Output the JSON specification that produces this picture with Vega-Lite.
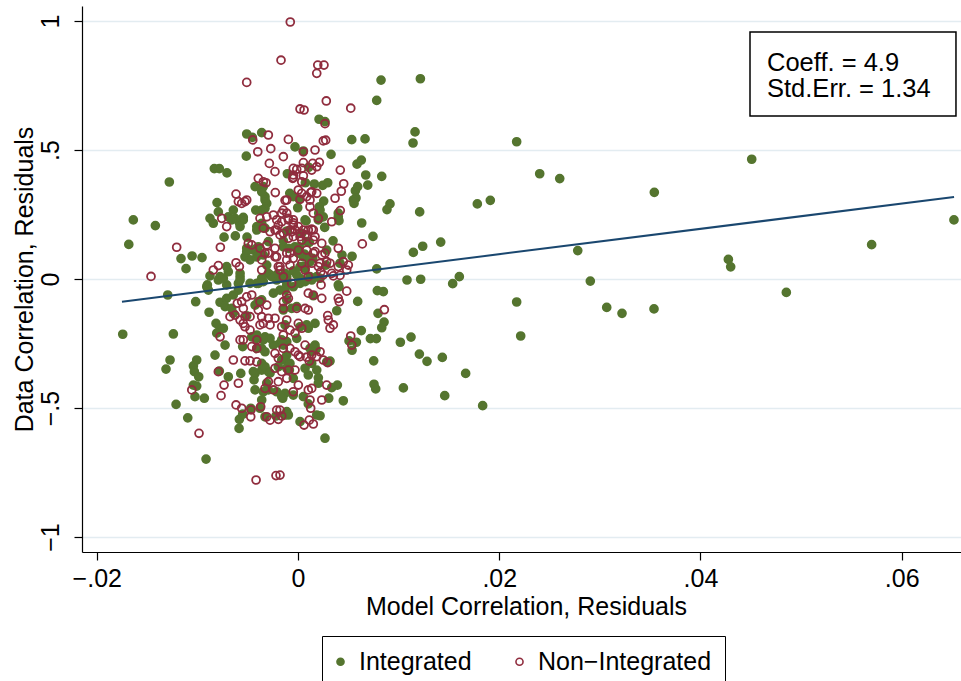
{
"$schema": "https://vega.github.io/schema/vega-lite/v6.json",
"width": 879, "height": 546,
"autosize": {"type": "none"},
"padding": {"left": 82, "top": 6, "right": 0, "bottom": 129},
"background": "white",
"config": {"view": {"stroke": null}, "font": "Liberation Sans"},
"layer": [
{
"data": {"values": [
{"x":0.00825,"y":0.771,"g":"Integrated"},{"x":0.01216,"y":0.776,"g":"Integrated"},{"x":0.00782,"y":0.692,"g":"Integrated"},{"x":0.01163,"y":0.570,"g":"Integrated"},{"x":0.01143,"y":0.527,"g":"Integrated"},{"x":0.02173,"y":0.532,"g":"Integrated"},{"x":0.00534,"y":0.540,"g":"Integrated"},{"x":0.00666,"y":0.543,"g":"Integrated"},{"x":0.02402,"y":0.408,"g":"Integrated"},{"x":0.02601,"y":0.389,"g":"Integrated"},
{"x":0.00328,"y":0.483,"g":"Integrated"},{"x":0.00586,"y":0.445,"g":"Integrated"},{"x":0.00629,"y":0.461,"g":"Integrated"},{"x":0.00673,"y":0.403,"g":"Integrated"},{"x":0.00832,"y":0.398,"g":"Integrated"},{"x":0.00693,"y":0.364,"g":"Integrated"},{"x":0.0057,"y":0.342,"g":"Integrated"},{"x":0.00593,"y":0.358,"g":"Integrated"},{"x":0.00576,"y":0.314,"g":"Integrated"},{"x":0.00557,"y":0.293,"g":"Integrated"},
{"x":0.01782,"y":0.291,"g":"Integrated"},{"x":0.01911,"y":0.305,"g":"Integrated"},{"x":0.00914,"y":0.291,"g":"Integrated"},{"x":0.00884,"y":0.269,"g":"Integrated"},{"x":0.01209,"y":0.260,"g":"Integrated"},{"x":0.00633,"y":0.217,"g":"Integrated"},{"x":0.00745,"y":0.165,"g":"Integrated"},{"x":0.01418,"y":0.143,"g":"Integrated"},{"x":0.01239,"y":0.127,"g":"Integrated"},{"x":0.01146,"y":0.103,"g":"Integrated"},
{"x":0.0278,"y":0.110,"g":"Integrated"},{"x":0.00782,"y":0.039,"g":"Integrated"},{"x":0.01083,"y":-0.004,"g":"Integrated"},{"x":0.01219,"y":-0.001,"g":"Integrated"},{"x":0.01603,"y":0.009,"g":"Integrated"},{"x":0.01537,"y":-0.018,"g":"Integrated"},{"x":0.02905,"y":-0.008,"g":"Integrated"},{"x":0.00209,"y":0.619,"g":"Integrated"},{"x":0.0008,"y":0.225,"g":"Integrated"},{"x":0.00255,"y":0.302,"g":"Integrated"},
{"x":0.00212,"y":0.280,"g":"Integrated"},{"x":0.00206,"y":0.255,"g":"Integrated"},{"x":0.004,"y":0.255,"g":"Integrated"},{"x":0.00407,"y":0.226,"g":"Integrated"},{"x":0.00265,"y":0.200,"g":"Integrated"},{"x":0.00348,"y":0.148,"g":"Integrated"},{"x":0.00285,"y":0.112,"g":"Integrated"},{"x":0.00437,"y":0.093,"g":"Integrated"},{"x":0.00537,"y":0.088,"g":"Integrated"},{"x":0.00417,"y":0.061,"g":"Integrated"},
{"x":-0.00106,"y":0.408,"g":"Integrated"},{"x":-0.0003,"y":0.512,"g":"Integrated"},{"x":0.00053,"y":0.496,"g":"Integrated"},{"x":0.00106,"y":0.433,"g":"Integrated"},{"x":0.00073,"y":0.373,"g":"Integrated"},{"x":0.00162,"y":0.368,"g":"Integrated"},{"x":0.00245,"y":0.363,"g":"Integrated"},{"x":0.00295,"y":0.373,"g":"Integrated"},{"x":-0.00082,"y":0.332,"g":"Integrated"},{"x":0.00013,"y":0.309,"g":"Integrated"},
{"x":-0.00003,"y":0.276,"g":"Integrated"},{"x":-0.00112,"y":0.186,"g":"Integrated"},{"x":-0.00146,"y":0.125,"g":"Integrated"},{"x":0.00112,"y":0.142,"g":"Integrated"},{"x":0.00013,"y":0.125,"g":"Integrated"},{"x":0.00063,"y":0.097,"g":"Integrated"},{"x":0.00146,"y":0.080,"g":"Integrated"},{"x":0.00053,"y":0.048,"g":"Integrated"},{"x":-0.00047,"y":0.032,"g":"Integrated"},{"x":0.0002,"y":0.003,"g":"Integrated"},
{"x":0.00278,"y":0.054,"g":"Integrated"},{"x":0.004,"y":-0.023,"g":"Integrated"},{"x":0.00788,"y":-0.045,"g":"Integrated"},{"x":0.00848,"y":-0.049,"g":"Integrated"},{"x":0.00593,"y":-0.087,"g":"Integrated"},{"x":0.00385,"y":-0.123,"g":"Integrated"},{"x":0.00407,"y":-0.030,"g":"Integrated"},{"x":0.00152,"y":-0.065,"g":"Integrated"},{"x":0.02173,"y":-0.089,"g":"Integrated"},{"x":0.03068,"y":-0.110,"g":"Integrated"},
{"x":0.0322,"y":-0.133,"g":"Integrated"},{"x":0.02213,"y":-0.221,"g":"Integrated"},{"x":0.00795,"y":-0.133,"g":"Integrated"},{"x":0.00855,"y":-0.167,"g":"Integrated"},{"x":0.00832,"y":-0.189,"g":"Integrated"},{"x":0.00629,"y":-0.200,"g":"Integrated"},{"x":0.00507,"y":-0.240,"g":"Integrated"},{"x":0.0058,"y":-0.245,"g":"Integrated"},{"x":0.00537,"y":-0.276,"g":"Integrated"},{"x":0.00719,"y":-0.231,"g":"Integrated"},
{"x":0.00779,"y":-0.231,"g":"Integrated"},{"x":0.01017,"y":-0.245,"g":"Integrated"},{"x":0.01123,"y":-0.225,"g":"Integrated"},{"x":0.00752,"y":-0.317,"g":"Integrated"},{"x":0.01206,"y":-0.291,"g":"Integrated"},{"x":0.01282,"y":-0.319,"g":"Integrated"},{"x":0.01434,"y":-0.304,"g":"Integrated"},{"x":0.01666,"y":-0.366,"g":"Integrated"},{"x":0.00285,"y":-0.321,"g":"Integrated"},{"x":0.00318,"y":-0.318,"g":"Integrated"},
{"x":0.00202,"y":-0.383,"g":"Integrated"},{"x":0.00202,"y":-0.404,"g":"Integrated"},{"x":0.00755,"y":-0.408,"g":"Integrated"},{"x":0.00772,"y":-0.426,"g":"Integrated"},{"x":0.01047,"y":-0.422,"g":"Integrated"},{"x":0.01458,"y":-0.452,"g":"Integrated"},{"x":0.01835,"y":-0.491,"g":"Integrated"},{"x":0.00335,"y":-0.421,"g":"Integrated"},{"x":0.00391,"y":-0.411,"g":"Integrated"},{"x":0.00305,"y":-0.462,"g":"Integrated"},
{"x":0.0045,"y":-0.472,"g":"Integrated"},{"x":0.00219,"y":-0.530,"g":"Integrated"},{"x":0.00268,"y":-0.617,"g":"Integrated"},{"x":-0.00152,"y":-0.462,"g":"Integrated"},{"x":-0.00112,"y":-0.514,"g":"Integrated"},{"x":-0.00129,"y":-0.527,"g":"Integrated"},{"x":0.0002,"y":-0.553,"g":"Integrated"},{"x":-0.00047,"y":-0.450,"g":"Integrated"},{"x":0.00053,"y":-0.456,"g":"Integrated"},{"x":0.00102,"y":-0.484,"g":"Integrated"},
{"x":-0.00179,"y":-0.249,"g":"Integrated"},{"x":-0.00112,"y":-0.243,"g":"Integrated"},{"x":-0.00013,"y":-0.230,"g":"Integrated"},{"x":0.00119,"y":-0.269,"g":"Integrated"},{"x":0.00179,"y":-0.273,"g":"Integrated"},{"x":-0.00112,"y":-0.295,"g":"Integrated"},{"x":-0.00086,"y":-0.353,"g":"Integrated"},{"x":-0.00047,"y":-0.385,"g":"Integrated"},{"x":-0.00162,"y":-0.314,"g":"Integrated"},{"x":0.0007,"y":-0.346,"g":"Integrated"},
{"x":0.00136,"y":-0.327,"g":"Integrated"},{"x":0.00186,"y":-0.353,"g":"Integrated"},{"x":0.00102,"y":-0.372,"g":"Integrated"},{"x":-0.00112,"y":-0.081,"g":"Integrated"},{"x":-0.00013,"y":-0.107,"g":"Integrated"},{"x":-0.00146,"y":-0.120,"g":"Integrated"},{"x":0.0002,"y":-0.185,"g":"Integrated"},{"x":0.00086,"y":-0.178,"g":"Integrated"},{"x":0.00169,"y":-0.172,"g":"Integrated"},
{"x":-0.01279,"y":0.376,"g":"Integrated"},{"x":-0.01637,"y":0.229,"g":"Integrated"},{"x":-0.01418,"y":0.207,"g":"Integrated"},{"x":-0.01682,"y":0.134,"g":"Integrated"},{"x":-0.01163,"y":0.079,"g":"Integrated"},{"x":-0.01053,"y":0.089,"g":"Integrated"},{"x":-0.00954,"y":0.083,"g":"Integrated"},{"x":-0.01113,"y":0.040,"g":"Integrated"},{"x":-0.0051,"y":0.562,"g":"Integrated"},{"x":-0.00454,"y":0.549,"g":"Integrated"},
{"x":-0.00361,"y":0.567,"g":"Integrated"},{"x":-0.00514,"y":0.476,"g":"Integrated"},{"x":-0.00832,"y":0.428,"g":"Integrated"},{"x":-0.00782,"y":0.428,"g":"Integrated"},{"x":-0.00706,"y":0.411,"g":"Integrated"},{"x":-0.00805,"y":0.296,"g":"Integrated"},{"x":-0.00875,"y":0.235,"g":"Integrated"},{"x":-0.00842,"y":0.216,"g":"Integrated"},{"x":-0.00792,"y":0.260,"g":"Integrated"},{"x":-0.00693,"y":0.241,"g":"Integrated"},
{"x":-0.00643,"y":0.267,"g":"Integrated"},{"x":-0.00735,"y":0.162,"g":"Integrated"},{"x":-0.00623,"y":0.167,"g":"Integrated"},{"x":-0.00507,"y":0.162,"g":"Integrated"},{"x":-0.00583,"y":0.218,"g":"Integrated"},{"x":-0.00544,"y":0.239,"g":"Integrated"},{"x":-0.0042,"y":0.267,"g":"Integrated"},{"x":-0.00427,"y":0.358,"g":"Integrated"},{"x":-0.00345,"y":0.358,"g":"Integrated"},{"x":-0.00328,"y":0.319,"g":"Integrated"},
{"x":-0.00311,"y":0.293,"g":"Integrated"},{"x":-0.00328,"y":0.274,"g":"Integrated"},{"x":-0.0051,"y":0.119,"g":"Integrated"},{"x":-0.00444,"y":0.112,"g":"Integrated"},{"x":-0.0041,"y":0.119,"g":"Integrated"},{"x":-0.00345,"y":0.093,"g":"Integrated"},{"x":-0.00527,"y":0.086,"g":"Integrated"},{"x":-0.00477,"y":0.074,"g":"Integrated"},{"x":-0.00311,"y":0.054,"g":"Integrated"},{"x":-0.00278,"y":0.016,"g":"Integrated"},
{"x":-0.00212,"y":-0.004,"g":"Integrated"},{"x":-0.00129,"y":0.022,"g":"Integrated"},{"x":-0.00112,"y":0.009,"g":"Integrated"},{"x":-0.00146,"y":0.148,"g":"Integrated"},{"x":-0.00096,"y":0.119,"g":"Integrated"},{"x":-0.0003,"y":0.125,"g":"Integrated"},{"x":0.00086,"y":0.145,"g":"Integrated"},{"x":0.00037,"y":0.177,"g":"Integrated"},{"x":0.00053,"y":0.086,"g":"Integrated"},{"x":0.00119,"y":0.067,"g":"Integrated"},
{"x":0.0007,"y":0.041,"g":"Integrated"},{"x":-0.00875,"y":0.012,"g":"Integrated"},{"x":-0.00775,"y":0.009,"g":"Integrated"},{"x":-0.00693,"y":0.028,"g":"Integrated"},{"x":-0.00576,"y":0.009,"g":"Integrated"},{"x":-0.0041,"y":-0.017,"g":"Integrated"},{"x":-0.00345,"y":-0.010,"g":"Integrated"},{"x":-0.00901,"y":-0.023,"g":"Integrated"},{"x":-0.00709,"y":0.048,"g":"Integrated"},
{"x":-0.01742,"y":-0.214,"g":"Integrated"},{"x":-0.01295,"y":-0.062,"g":"Integrated"},{"x":-0.01239,"y":-0.213,"g":"Integrated"},{"x":-0.01017,"y":-0.088,"g":"Integrated"},{"x":-0.00884,"y":-0.129,"g":"Integrated"},{"x":-0.01272,"y":-0.314,"g":"Integrated"},{"x":-0.01312,"y":-0.349,"g":"Integrated"},{"x":-0.01212,"y":-0.486,"g":"Integrated"},{"x":-0.01096,"y":-0.538,"g":"Integrated"},{"x":-0.00914,"y":-0.698,"g":"Integrated"},
{"x":-0.01007,"y":-0.314,"g":"Integrated"},{"x":-0.0104,"y":-0.337,"g":"Integrated"},{"x":-0.0103,"y":-0.359,"g":"Integrated"},{"x":-0.00987,"y":-0.379,"g":"Integrated"},{"x":-0.0104,"y":-0.411,"g":"Integrated"},{"x":-0.01007,"y":-0.415,"g":"Integrated"},{"x":-0.01024,"y":-0.456,"g":"Integrated"},{"x":-0.00931,"y":-0.462,"g":"Integrated"},{"x":-0.00815,"y":-0.172,"g":"Integrated"},{"x":-0.00775,"y":-0.191,"g":"Integrated"},
{"x":-0.00808,"y":-0.210,"g":"Integrated"},{"x":-0.00725,"y":-0.256,"g":"Integrated"},{"x":-0.00825,"y":-0.295,"g":"Integrated"},{"x":-0.00782,"y":-0.357,"g":"Integrated"},{"x":-0.00693,"y":-0.379,"g":"Integrated"},{"x":-0.00569,"y":-0.366,"g":"Integrated"},{"x":-0.0055,"y":-0.262,"g":"Integrated"},{"x":-0.00583,"y":-0.544,"g":"Integrated"},{"x":-0.0055,"y":-0.524,"g":"Integrated"},{"x":-0.0047,"y":-0.501,"g":"Integrated"},
{"x":-0.00775,"y":-0.090,"g":"Integrated"},{"x":-0.00643,"y":-0.133,"g":"Integrated"},{"x":-0.0051,"y":-0.143,"g":"Integrated"},{"x":-0.00907,"y":-0.030,"g":"Integrated"},{"x":-0.00891,"y":-0.043,"g":"Integrated"},{"x":-0.00709,"y":-0.023,"g":"Integrated"},{"x":-0.00593,"y":-0.017,"g":"Integrated"},{"x":-0.00477,"y":-0.017,"g":"Integrated"},{"x":-0.00394,"y":-0.017,"g":"Integrated"},{"x":-0.00427,"y":-0.366,"g":"Integrated"},
{"x":-0.00361,"y":-0.353,"g":"Integrated"},{"x":-0.00437,"y":-0.391,"g":"Integrated"},{"x":-0.00427,"y":-0.430,"g":"Integrated"},{"x":-0.00345,"y":-0.437,"g":"Integrated"},{"x":-0.00311,"y":-0.404,"g":"Integrated"},{"x":-0.0046,"y":-0.224,"g":"Integrated"},{"x":-0.0041,"y":-0.230,"g":"Integrated"},{"x":-0.00345,"y":-0.236,"g":"Integrated"},{"x":-0.00245,"y":-0.256,"g":"Integrated"},{"x":-0.00162,"y":-0.236,"g":"Integrated"},
{"x":-0.00361,"y":-0.269,"g":"Integrated"},{"x":-0.00328,"y":-0.282,"g":"Integrated"},{"x":-0.00129,"y":-0.314,"g":"Integrated"},{"x":-0.0008,"y":-0.327,"g":"Integrated"},{"x":-0.00112,"y":-0.346,"g":"Integrated"},{"x":-0.00245,"y":-0.055,"g":"Integrated"},{"x":-0.00179,"y":-0.043,"g":"Integrated"},{"x":-0.00112,"y":-0.023,"g":"Integrated"},{"x":-0.00047,"y":-0.030,"g":"Integrated"},{"x":0.0002,"y":-0.017,"g":"Integrated"},
{"x":-0.00219,"y":-0.531,"g":"Integrated"},{"x":-0.00328,"y":-0.534,"g":"Integrated"},{"x":-0.00129,"y":-0.443,"g":"Integrated"},{"x":0.00186,"y":-0.527,"g":"Integrated"},{"x":-0.00544,"y":0.229,"g":"Integrated"},{"x":-0.00626,"y":0.235,"g":"Integrated"},{"x":-0.00576,"y":0.203,"g":"Integrated"},{"x":-0.00659,"y":0.229,"g":"Integrated"},{"x":-0.0041,"y":0.203,"g":"Integrated"},{"x":-0.00576,"y":0.022,"g":"Integrated"},
{"x":-0.0051,"y":0.106,"g":"Integrated"},{"x":-0.0041,"y":0.086,"g":"Integrated"},{"x":0.00268,"y":0.610,"g":"Integrated"},{"x":-0.00361,"y":0.338,"g":"Integrated"},{"x":-0.00328,"y":0.306,"g":"Integrated"},{"x":-0.00361,"y":0.267,"g":"Integrated"},{"x":-0.00047,"y":0.319,"g":"Integrated"},{"x":0.00219,"y":0.267,"g":"Integrated"},{"x":0.00251,"y":0.241,"g":"Integrated"},{"x":0.00202,"y":0.229,"g":"Integrated"},
{"x":0.004,"y":0.241,"g":"Integrated"},{"x":0.0055,"y":0.306,"g":"Integrated"},{"x":-0.00361,"y":0.216,"g":"Integrated"},{"x":-0.00328,"y":0.197,"g":"Integrated"},{"x":-0.0041,"y":0.190,"g":"Integrated"},{"x":0.0007,"y":0.229,"g":"Integrated"},{"x":-0.00295,"y":0.145,"g":"Integrated"},{"x":-0.00395,"y":0.125,"g":"Integrated"},{"x":0.00003,"y":0.100,"g":"Integrated"},{"x":0.00102,"y":0.086,"g":"Integrated"},
{"x":-0.00295,"y":0.022,"g":"Integrated"},{"x":-0.00212,"y":0.016,"g":"Integrated"},{"x":0.0002,"y":0.048,"g":"Integrated"},{"x":-0.00013,"y":0.016,"g":"Integrated"},{"x":0.00119,"y":0.009,"g":"Integrated"},{"x":0.00186,"y":0.009,"g":"Integrated"},{"x":-0.00792,"y":-0.004,"g":"Integrated"},{"x":-0.00742,"y":0.003,"g":"Integrated"},{"x":-0.00576,"y":-0.004,"g":"Integrated"},{"x":-0.00593,"y":-0.043,"g":"Integrated"},
{"x":-0.00709,"y":-0.075,"g":"Integrated"},{"x":-0.00643,"y":-0.062,"g":"Integrated"},{"x":-0.00725,"y":-0.107,"g":"Integrated"},{"x":-0.00659,"y":-0.114,"g":"Integrated"},{"x":-0.00427,"y":-0.101,"g":"Integrated"},{"x":-0.00742,"y":-0.191,"g":"Integrated"},{"x":-0.0041,"y":-0.269,"g":"Integrated"},{"x":-0.00444,"y":-0.359,"g":"Integrated"},{"x":-0.00586,"y":-0.579,"g":"Integrated"},{"x":-0.00378,"y":-0.501,"g":"Integrated"},
{"x":-0.00361,"y":0.003,"g":"Integrated"},{"x":-0.00261,"y":0.009,"g":"Integrated"},{"x":-0.00162,"y":0.003,"g":"Integrated"},{"x":-0.00112,"y":-0.010,"g":"Integrated"},{"x":0.0007,"y":-0.010,"g":"Integrated"},{"x":0.00136,"y":-0.004,"g":"Integrated"},{"x":0.00219,"y":0.003,"g":"Integrated"},{"x":-0.00129,"y":-0.043,"g":"Integrated"},{"x":-0.00395,"y":-0.088,"g":"Integrated"},{"x":-0.00361,"y":-0.081,"g":"Integrated"},
{"x":-0.00063,"y":-0.114,"g":"Integrated"},{"x":-0.00129,"y":-0.178,"g":"Integrated"},{"x":0.00102,"y":-0.191,"g":"Integrated"},{"x":-0.0041,"y":-0.217,"g":"Integrated"},{"x":-0.00328,"y":-0.224,"g":"Integrated"},{"x":-0.00278,"y":-0.230,"g":"Integrated"},{"x":-0.00146,"y":-0.256,"g":"Integrated"},{"x":0.00169,"y":-0.256,"g":"Integrated"},{"x":0.00136,"y":-0.282,"g":"Integrated"},{"x":-0.00361,"y":-0.327,"g":"Integrated"},
{"x":-0.00328,"y":-0.340,"g":"Integrated"},{"x":-0.00295,"y":-0.359,"g":"Integrated"},{"x":-0.00278,"y":-0.365,"g":"Integrated"},{"x":-0.00196,"y":-0.340,"g":"Integrated"},{"x":-0.00096,"y":-0.340,"g":"Integrated"},{"x":-0.00295,"y":-0.430,"g":"Integrated"},{"x":-0.00212,"y":-0.437,"g":"Integrated"},{"x":-0.00162,"y":-0.456,"g":"Integrated"},{"x":-0.00361,"y":-0.469,"g":"Integrated"},{"x":-0.00096,"y":-0.527,"g":"Integrated"},
{"x":0.04277,"y":0.076,"g":"Integrated"},{"x":0.043,"y":0.047,"g":"Integrated"},{"x":0.03541,"y":0.336,"g":"Integrated"},{"x":0.04509,"y":0.464,"g":"Integrated"},{"x":0.04853,"y":-0.052,"g":"Integrated"},{"x":0.05701,"y":0.133,"g":"Integrated"},{"x":0.06519,"y":0.229,"g":"Integrated"},{"x":0.03538,"y":-0.116,"g":"Integrated"},
{"x":-0.00077,"y":0.996,"g":"Non-Integrated"},{"x":-0.00169,"y":0.848,"g":"Non-Integrated"},{"x":-0.0051,"y":0.762,"g":"Non-Integrated"},{"x":0.00196,"y":0.829,"g":"Non-Integrated"},{"x":0.00186,"y":0.797,"g":"Non-Integrated"},{"x":0.00258,"y":0.829,"g":"Non-Integrated"},{"x":0.0002,"y":0.659,"g":"Non-Integrated"},{"x":0.0006,"y":0.655,"g":"Non-Integrated"},{"x":-0.00295,"y":0.558,"g":"Non-Integrated"},{"x":-0.0045,"y":0.539,"g":"Non-Integrated"},
{"x":-0.00096,"y":0.541,"g":"Non-Integrated"},{"x":-0.004,"y":0.493,"g":"Non-Integrated"},{"x":-0.00271,"y":0.505,"g":"Non-Integrated"},{"x":0.00053,"y":0.493,"g":"Non-Integrated"},{"x":0.00169,"y":0.500,"g":"Non-Integrated"},{"x":-0.00146,"y":0.474,"g":"Non-Integrated"},{"x":-0.00285,"y":0.448,"g":"Non-Integrated"},{"x":-0.00229,"y":0.416,"g":"Non-Integrated"},{"x":-0.00047,"y":0.429,"g":"Non-Integrated"},{"x":0.00037,"y":0.429,"g":"Non-Integrated"},
{"x":0.00136,"y":0.422,"g":"Non-Integrated"},{"x":-0.00053,"y":0.390,"g":"Non-Integrated"},{"x":0.00037,"y":0.377,"g":"Non-Integrated"},{"x":-0.00345,"y":0.377,"g":"Non-Integrated"},{"x":-0.00318,"y":0.373,"g":"Non-Integrated"},{"x":-0.00616,"y":0.329,"g":"Non-Integrated"},{"x":-0.00593,"y":0.300,"g":"Non-Integrated"},{"x":-0.0056,"y":0.293,"g":"Non-Integrated"},{"x":-0.00527,"y":0.300,"g":"Non-Integrated"},{"x":-0.0051,"y":0.306,"g":"Non-Integrated"},
{"x":-0.00226,"y":0.335,"g":"Non-Integrated"},{"x":-0.00112,"y":0.306,"g":"Non-Integrated"},{"x":0.00003,"y":0.345,"g":"Non-Integrated"},{"x":0.00037,"y":0.332,"g":"Non-Integrated"},{"x":0.00086,"y":0.319,"g":"Non-Integrated"},{"x":0.00136,"y":0.338,"g":"Non-Integrated"},{"x":0.00186,"y":0.332,"g":"Non-Integrated"},{"x":-0.01206,"y":0.123,"g":"Non-Integrated"},{"x":-0.01461,"y":0.010,"g":"Non-Integrated"},{"x":-0.00772,"y":0.123,"g":"Non-Integrated"},
{"x":-0.00709,"y":0.203,"g":"Non-Integrated"},{"x":-0.00616,"y":0.063,"g":"Non-Integrated"},{"x":-0.00583,"y":0.048,"g":"Non-Integrated"},{"x":-0.00361,"y":0.035,"g":"Non-Integrated"},{"x":-0.00179,"y":0.035,"g":"Non-Integrated"},{"x":-0.00378,"y":0.235,"g":"Non-Integrated"},{"x":-0.00311,"y":0.241,"g":"Non-Integrated"},{"x":-0.00245,"y":0.248,"g":"Non-Integrated"},{"x":-0.00212,"y":0.229,"g":"Non-Integrated"},{"x":-0.00162,"y":0.222,"g":"Non-Integrated"},
{"x":-0.00112,"y":0.255,"g":"Non-Integrated"},{"x":-0.00047,"y":0.229,"g":"Non-Integrated"},{"x":-0.00345,"y":0.197,"g":"Non-Integrated"},{"x":-0.00278,"y":0.183,"g":"Non-Integrated"},{"x":-0.00212,"y":0.190,"g":"Non-Integrated"},{"x":-0.00146,"y":0.177,"g":"Non-Integrated"},{"x":-0.0008,"y":0.190,"g":"Non-Integrated"},{"x":-0.00047,"y":0.164,"g":"Non-Integrated"},{"x":0.0002,"y":0.177,"g":"Non-Integrated"},{"x":0.00102,"y":0.190,"g":"Non-Integrated"},
{"x":-0.00311,"y":0.132,"g":"Non-Integrated"},{"x":-0.00229,"y":0.119,"g":"Non-Integrated"},{"x":-0.00212,"y":0.086,"g":"Non-Integrated"},{"x":-0.00112,"y":0.100,"g":"Non-Integrated"},{"x":-0.00047,"y":0.080,"g":"Non-Integrated"},{"x":-0.0008,"y":0.054,"g":"Non-Integrated"},{"x":0.00037,"y":0.061,"g":"Non-Integrated"},{"x":0.00152,"y":0.100,"g":"Non-Integrated"},{"x":-0.00378,"y":0.119,"g":"Non-Integrated"},{"x":-0.00328,"y":0.100,"g":"Non-Integrated"},
{"x":0.00119,"y":0.280,"g":"Non-Integrated"},{"x":0.00152,"y":0.255,"g":"Non-Integrated"},{"x":0.00202,"y":0.235,"g":"Non-Integrated"},{"x":0.00281,"y":0.690,"g":"Non-Integrated"},{"x":0.00524,"y":0.662,"g":"Non-Integrated"},{"x":0.00268,"y":0.602,"g":"Non-Integrated"},{"x":0.00251,"y":0.535,"g":"Non-Integrated"},{"x":0.00275,"y":0.538,"g":"Non-Integrated"},{"x":0.00053,"y":0.451,"g":"Non-Integrated"},{"x":0.00146,"y":0.448,"g":"Non-Integrated"},
{"x":0.00212,"y":0.452,"g":"Non-Integrated"},{"x":-0.00013,"y":0.425,"g":"Non-Integrated"},{"x":0.00053,"y":0.400,"g":"Non-Integrated"},{"x":-0.00047,"y":0.393,"g":"Non-Integrated"},{"x":0.0042,"y":0.422,"g":"Non-Integrated"},{"x":0.00454,"y":0.369,"g":"Non-Integrated"},{"x":0.0043,"y":0.340,"g":"Non-Integrated"},{"x":0.00368,"y":0.313,"g":"Non-Integrated"},{"x":0.00126,"y":0.335,"g":"Non-Integrated"},{"x":0.00119,"y":0.306,"g":"Non-Integrated"},
{"x":0.0002,"y":0.309,"g":"Non-Integrated"},{"x":-0.00129,"y":0.305,"g":"Non-Integrated"},{"x":0.0042,"y":0.265,"g":"Non-Integrated"},{"x":0.00335,"y":0.222,"g":"Non-Integrated"},{"x":0.00639,"y":0.136,"g":"Non-Integrated"},{"x":0.00236,"y":0.138,"g":"Non-Integrated"},{"x":0.004,"y":0.119,"g":"Non-Integrated"},{"x":0.005,"y":0.054,"g":"Non-Integrated"},{"x":-0.0008,"y":0.100,"g":"Non-Integrated"},{"x":0.00226,"y":0.027,"g":"Non-Integrated"},
{"x":0.00251,"y":0.016,"g":"Non-Integrated"},{"x":0.00351,"y":0.012,"g":"Non-Integrated"},{"x":0.00417,"y":0.014,"g":"Non-Integrated"},{"x":-0.00096,"y":0.235,"g":"Non-Integrated"},{"x":-0.00047,"y":0.218,"g":"Non-Integrated"},{"x":-0.0003,"y":0.190,"g":"Non-Integrated"},{"x":-0.00096,"y":0.158,"g":"Non-Integrated"},{"x":0.00053,"y":0.190,"g":"Non-Integrated"},{"x":0.00136,"y":0.193,"g":"Non-Integrated"},{"x":0.0002,"y":0.164,"g":"Non-Integrated"},
{"x":0.00086,"y":0.164,"g":"Non-Integrated"},{"x":0.00152,"y":0.151,"g":"Non-Integrated"},{"x":0.00236,"y":0.093,"g":"Non-Integrated"},{"x":0.00136,"y":0.061,"g":"Non-Integrated"},{"x":0.00202,"y":0.048,"g":"Non-Integrated"},{"x":0.00318,"y":0.061,"g":"Non-Integrated"},{"x":-0.00179,"y":0.048,"g":"Non-Integrated"},{"x":-0.00112,"y":0.074,"g":"Non-Integrated"},{"x":-0.00146,"y":0.009,"g":"Non-Integrated"},{"x":-0.00063,"y":-0.017,"g":"Non-Integrated"},
{"x":0.00229,"y":-0.023,"g":"Non-Integrated"},{"x":0.00236,"y":-0.075,"g":"Non-Integrated"},{"x":0.00484,"y":-0.047,"g":"Non-Integrated"},{"x":0.0041,"y":-0.088,"g":"Non-Integrated"},{"x":0.00858,"y":-0.119,"g":"Non-Integrated"},{"x":0.00295,"y":-0.142,"g":"Non-Integrated"},{"x":0.00351,"y":-0.178,"g":"Non-Integrated"},{"x":0.00301,"y":-0.159,"g":"Non-Integrated"},{"x":0.00524,"y":-0.221,"g":"Non-Integrated"},{"x":0.00251,"y":-0.314,"g":"Non-Integrated"},
{"x":0.00295,"y":-0.324,"g":"Non-Integrated"},{"x":0.00112,"y":-0.318,"g":"Non-Integrated"},{"x":0.00086,"y":-0.303,"g":"Non-Integrated"},{"x":0.00136,"y":-0.295,"g":"Non-Integrated"},{"x":0.0002,"y":-0.301,"g":"Non-Integrated"},{"x":0.00003,"y":-0.411,"g":"Non-Integrated"},{"x":-0.00047,"y":-0.437,"g":"Non-Integrated"},{"x":0.00102,"y":-0.430,"g":"Non-Integrated"},{"x":0.00136,"y":-0.424,"g":"Non-Integrated"},{"x":0.00119,"y":-0.469,"g":"Non-Integrated"},
{"x":0.00236,"y":-0.469,"g":"Non-Integrated"},{"x":0.00126,"y":-0.501,"g":"Non-Integrated"},{"x":0.00112,"y":-0.547,"g":"Non-Integrated"},{"x":0.00152,"y":-0.562,"g":"Non-Integrated"},{"x":0.0006,"y":-0.566,"g":"Non-Integrated"},{"x":-0.00179,"y":-0.760,"g":"Non-Integrated"},{"x":-0.00162,"y":-0.531,"g":"Non-Integrated"},{"x":-0.00179,"y":-0.508,"g":"Non-Integrated"},{"x":-0.00417,"y":-0.779,"g":"Non-Integrated"},{"x":-0.00219,"y":-0.762,"g":"Non-Integrated"},
{"x":-0.00984,"y":-0.598,"g":"Non-Integrated"},{"x":-0.01056,"y":-0.430,"g":"Non-Integrated"},{"x":-0.00765,"y":-0.452,"g":"Non-Integrated"},{"x":-0.00735,"y":-0.411,"g":"Non-Integrated"},{"x":-0.00593,"y":-0.404,"g":"Non-Integrated"},{"x":-0.00616,"y":-0.488,"g":"Non-Integrated"},{"x":-0.0056,"y":-0.501,"g":"Non-Integrated"},{"x":-0.0047,"y":-0.534,"g":"Non-Integrated"},{"x":-0.00311,"y":-0.534,"g":"Non-Integrated"},{"x":-0.00278,"y":-0.547,"g":"Non-Integrated"},
{"x":-0.00196,"y":-0.544,"g":"Non-Integrated"},{"x":-0.00371,"y":-0.495,"g":"Non-Integrated"},{"x":-0.00212,"y":-0.508,"g":"Non-Integrated"},{"x":-0.00643,"y":-0.314,"g":"Non-Integrated"},{"x":-0.00527,"y":-0.317,"g":"Non-Integrated"},{"x":-0.00477,"y":-0.317,"g":"Non-Integrated"},{"x":-0.0041,"y":-0.321,"g":"Non-Integrated"},{"x":-0.00676,"y":-0.146,"g":"Non-Integrated"},{"x":-0.00626,"y":-0.140,"g":"Non-Integrated"},{"x":-0.00576,"y":-0.159,"g":"Non-Integrated"},
{"x":-0.00775,"y":-0.224,"g":"Non-Integrated"},{"x":-0.00603,"y":-0.094,"g":"Non-Integrated"},{"x":-0.0051,"y":-0.069,"g":"Non-Integrated"},{"x":-0.00792,"y":-0.359,"g":"Non-Integrated"},{"x":-0.00395,"y":0.390,"g":"Non-Integrated"},{"x":-0.00758,"y":0.235,"g":"Non-Integrated"},{"x":-0.00792,"y":0.052,"g":"Non-Integrated"},{"x":-0.00842,"y":0.035,"g":"Non-Integrated"},{"x":-0.00494,"y":0.138,"g":"Non-Integrated"},{"x":-0.0046,"y":0.132,"g":"Non-Integrated"},
{"x":-0.00047,"y":0.403,"g":"Non-Integrated"},{"x":0.00186,"y":0.435,"g":"Non-Integrated"},{"x":-0.00146,"y":0.267,"g":"Non-Integrated"},{"x":-0.00162,"y":0.255,"g":"Non-Integrated"},{"x":-0.00196,"y":0.209,"g":"Non-Integrated"},{"x":-0.00229,"y":0.190,"g":"Non-Integrated"},{"x":-0.00179,"y":0.171,"g":"Non-Integrated"},{"x":-0.00096,"y":0.229,"g":"Non-Integrated"},{"x":-0.00047,"y":0.209,"g":"Non-Integrated"},{"x":-0.00063,"y":0.183,"g":"Non-Integrated"},
{"x":0.00003,"y":0.203,"g":"Non-Integrated"},{"x":0.0007,"y":0.171,"g":"Non-Integrated"},{"x":0.00152,"y":0.190,"g":"Non-Integrated"},{"x":0.00037,"y":0.151,"g":"Non-Integrated"},{"x":0.00169,"y":0.164,"g":"Non-Integrated"},{"x":-0.00295,"y":0.100,"g":"Non-Integrated"},{"x":-0.00229,"y":0.086,"g":"Non-Integrated"},{"x":-0.00361,"y":0.074,"g":"Non-Integrated"},{"x":-0.00196,"y":0.048,"g":"Non-Integrated"},{"x":0.00003,"y":0.112,"g":"Non-Integrated"},
{"x":0.00086,"y":0.112,"g":"Non-Integrated"},{"x":0.00169,"y":0.106,"g":"Non-Integrated"},{"x":0.00268,"y":0.100,"g":"Non-Integrated"},{"x":0.0007,"y":0.035,"g":"Non-Integrated"},{"x":0.00219,"y":0.061,"g":"Non-Integrated"},{"x":0.00285,"y":0.067,"g":"Non-Integrated"},{"x":0.0045,"y":0.067,"g":"Non-Integrated"},{"x":0.004,"y":0.048,"g":"Non-Integrated"},{"x":0.00484,"y":0.035,"g":"Non-Integrated"},{"x":0.00335,"y":0.022,"g":"Non-Integrated"},
{"x":0.00102,"y":0.009,"g":"Non-Integrated"},{"x":-0.00544,"y":-0.114,"g":"Non-Integrated"},{"x":-0.0056,"y":-0.088,"g":"Non-Integrated"},{"x":-0.0046,"y":-0.062,"g":"Non-Integrated"},{"x":-0.00527,"y":-0.185,"g":"Non-Integrated"},{"x":-0.00477,"y":-0.198,"g":"Non-Integrated"},{"x":-0.00544,"y":-0.236,"g":"Non-Integrated"},{"x":-0.0046,"y":-0.262,"g":"Non-Integrated"},{"x":-0.0041,"y":-0.269,"g":"Non-Integrated"},{"x":-0.00467,"y":-0.507,"g":"Non-Integrated"},
{"x":0.00152,"y":-0.062,"g":"Non-Integrated"},{"x":0.00102,"y":-0.055,"g":"Non-Integrated"},{"x":0.004,"y":-0.075,"g":"Non-Integrated"},{"x":-0.00378,"y":-0.088,"g":"Non-Integrated"},{"x":-0.00311,"y":-0.101,"g":"Non-Integrated"},{"x":-0.00112,"y":-0.062,"g":"Non-Integrated"},{"x":-0.00146,"y":-0.088,"g":"Non-Integrated"},{"x":-0.00096,"y":-0.075,"g":"Non-Integrated"},{"x":-0.00013,"y":-0.114,"g":"Non-Integrated"},{"x":0.0007,"y":-0.114,"g":"Non-Integrated"},
{"x":0.00102,"y":-0.120,"g":"Non-Integrated"},{"x":-0.00395,"y":-0.120,"g":"Non-Integrated"},{"x":-0.00361,"y":-0.146,"g":"Non-Integrated"},{"x":-0.00295,"y":-0.152,"g":"Non-Integrated"},{"x":-0.00229,"y":-0.152,"g":"Non-Integrated"},{"x":-0.00345,"y":-0.172,"g":"Non-Integrated"},{"x":-0.00278,"y":-0.178,"g":"Non-Integrated"},{"x":-0.00378,"y":-0.178,"g":"Non-Integrated"},{"x":-0.00146,"y":-0.114,"g":"Non-Integrated"},{"x":-0.00112,"y":-0.159,"g":"Non-Integrated"},
{"x":0.00003,"y":-0.172,"g":"Non-Integrated"},{"x":0.00037,"y":-0.191,"g":"Non-Integrated"},{"x":-0.0008,"y":-0.198,"g":"Non-Integrated"},{"x":-0.0003,"y":-0.210,"g":"Non-Integrated"},{"x":-0.00146,"y":-0.217,"g":"Non-Integrated"},{"x":-0.00162,"y":-0.185,"g":"Non-Integrated"},{"x":0.00318,"y":-0.191,"g":"Non-Integrated"},{"x":-0.0041,"y":-0.236,"g":"Non-Integrated"},{"x":-0.00229,"y":-0.288,"g":"Non-Integrated"},{"x":-0.00196,"y":-0.307,"g":"Non-Integrated"},
{"x":-0.00146,"y":-0.269,"g":"Non-Integrated"},{"x":-0.0008,"y":-0.269,"g":"Non-Integrated"},{"x":0.00003,"y":-0.295,"g":"Non-Integrated"},{"x":0.00186,"y":-0.301,"g":"Non-Integrated"},{"x":0.00219,"y":-0.282,"g":"Non-Integrated"},{"x":0.0007,"y":-0.256,"g":"Non-Integrated"},{"x":-0.0003,"y":-0.282,"g":"Non-Integrated"},{"x":-0.00229,"y":-0.346,"g":"Non-Integrated"},{"x":-0.00162,"y":-0.359,"g":"Non-Integrated"},{"x":-0.00096,"y":-0.353,"g":"Non-Integrated"},
{"x":-0.0003,"y":-0.353,"g":"Non-Integrated"},{"x":-0.00112,"y":-0.385,"g":"Non-Integrated"},{"x":-0.00196,"y":-0.398,"g":"Non-Integrated"},{"x":-0.00295,"y":-0.398,"g":"Non-Integrated"},{"x":-0.00328,"y":-0.424,"g":"Non-Integrated"},{"x":-0.00245,"y":-0.430,"g":"Non-Integrated"},{"x":0.00285,"y":-0.411,"g":"Non-Integrated"},{"x":0.00534,"y":-0.256,"g":"Non-Integrated"},{"x":-0.00544,"y":-0.172,"g":"Non-Integrated"},{"x":-0.00576,"y":-0.236,"g":"Non-Integrated"},
{"x":-0.00527,"y":-0.146,"g":"Non-Integrated"},{"x":-0.00477,"y":-0.146,"g":"Non-Integrated"}
]},
"mark": {"type": "point", "shape": "circle", "opacity": 1, "strokeWidth": 1.8, "size": 62},
"encoding": {
"x": {"field": "x", "type": "quantitative",
 "scale": {"domain": [-0.02147, 0.06589], "nice": false, "zero": false},
 "axis": {"title": "Model Correlation, Residuals", "values": [-0.02, 0, 0.02, 0.04, 0.06], "format": "~g",
  "labelExpr": "replace(datum.label, '0.', '.')",
  "labelFontSize": 25, "labelFont": "Liberation Sans", "labelColor": "black", "labelBaseline": "alphabetic", "labelPadding": 26,
  "labelFlush": false, "labelOverlap": false, "labelBound": false,
  "tickSize": 8, "tickColor": "black", "tickWidth": 1.2, "domainColor": "black", "domainWidth": 1.2, "grid": false,
  "titleFontSize": 25, "titleFont": "Liberation Sans", "titleFontWeight": "normal", "titleColor": "black",
  "titleX": 444, "titleY": 62, "titleAlign": "center", "titleBaseline": "alphabetic", "titleAnchor": null}},
"y": {"field": "y", "type": "quantitative",
 "scale": {"domain": [-1.058, 1.058], "nice": false, "zero": false},
 "axis": {"title": "Data Correlation, Residuals", "values": [-1, -0.5, 0, 0.5, 1], "format": "~g",
  "labelExpr": "replace(datum.label, '0.', '.')",
  "labelAngle": -90, "labelAlign": "center", "labelBaseline": "alphabetic", "labelPadding": 16,
  "labelFontSize": 25, "labelFont": "Liberation Sans", "labelColor": "black",
  "labelFlush": false, "labelOverlap": false, "labelBound": false,
  "tickSize": 8, "tickColor": "black", "tickWidth": 1.2, "domainColor": "black", "domainWidth": 1.2,
  "grid": true, "gridColor": "#e3ecf1", "gridWidth": 1.5,
  "titleFontSize": 25, "titleFont": "Liberation Sans", "titleFontWeight": "normal", "titleColor": "black",
  "titleAngle": -90, "titleX": -50, "titleY": 273, "titleAlign": "center", "titleBaseline": "alphabetic", "titleAnchor": null}},
"fill": {"field": "g", "type": "nominal",
 "scale": {"domain": ["Integrated", "Non-Integrated"], "range": ["#55752f", "transparent"]},
 "legend": {"title": null, "orient": "none", "legendX": 240, "legendY": 630, "direction": "horizontal", "columns": 2,
  "labelFontSize": 25, "labelFont": "Liberation Sans", "labelColor": "black", "labelLimit": 300,
  "labelExpr": "replace(datum.label, '-', '−')",
  "symbolType": "circle", "symbolSize": 50, "symbolStrokeWidth": 1.6, "symbolOffset": -7, "labelOffset": 6, "columnPadding": 40,
  "padding": 13, "strokeColor": "black"}},
"stroke": {"field": "g", "type": "nominal",
 "scale": {"domain": ["Integrated", "Non-Integrated"], "range": ["#55752f", "#902d3e"]},
 "legend": {"title": null, "orient": "none", "legendX": 240, "legendY": 630, "direction": "horizontal", "columns": 2,
  "labelFontSize": 25, "labelFont": "Liberation Sans", "labelColor": "black", "labelLimit": 300,
  "labelExpr": "replace(datum.label, '-', '−')",
  "symbolType": "circle", "symbolSize": 50, "symbolStrokeWidth": 1.6, "symbolOffset": -7, "labelOffset": 6, "columnPadding": 40,
  "padding": 13, "strokeColor": "black"}}
}
},
{
"data": {"values": [{}]},
"mark": {"type": "rule", "color": "#1a476f", "strokeWidth": 2},
"encoding": {
"x": {"datum": -0.0175, "type": "quantitative", "title": "Model Correlation, Residuals"},
"y": {"datum": -0.088, "type": "quantitative", "title": "Data Correlation, Residuals"},
"x2": {"datum": 0.0652},
"y2": {"datum": 0.318}
}
},
{
"data": {"values": [{}]},
"mark": {"type": "rect", "fill": "white", "stroke": "black", "strokeWidth": 1.5},
"encoding": {
"x": {"datum": 0.04492, "type": "quantitative", "title": "Model Correlation, Residuals"},
"x2": {"datum": 0.06539},
"y": {"datum": 0.957, "type": "quantitative", "title": "Data Correlation, Residuals"},
"y2": {"datum": 0.632}
}
},
{
"data": {"values": [{}]},
"mark": {"type": "text", "align": "left", "baseline": "alphabetic", "fontSize": 25.5, "font": "Liberation Sans", "color": "black"},
"encoding": {
"x": {"datum": 0.04661, "type": "quantitative", "title": "Model Correlation, Residuals"},
"y": {"datum": 0.806, "type": "quantitative", "title": "Data Correlation, Residuals"},
"text": {"value": "Coeff. = 4.9"}
}
},
{
"data": {"values": [{}]},
"mark": {"type": "text", "align": "left", "baseline": "alphabetic", "fontSize": 25.5, "font": "Liberation Sans", "color": "black"},
"encoding": {
"x": {"datum": 0.04661, "type": "quantitative", "title": "Model Correlation, Residuals"},
"y": {"datum": 0.7066, "type": "quantitative", "title": "Data Correlation, Residuals"},
"text": {"value": "Std.Err. = 1.34"}
}
}
]
}
